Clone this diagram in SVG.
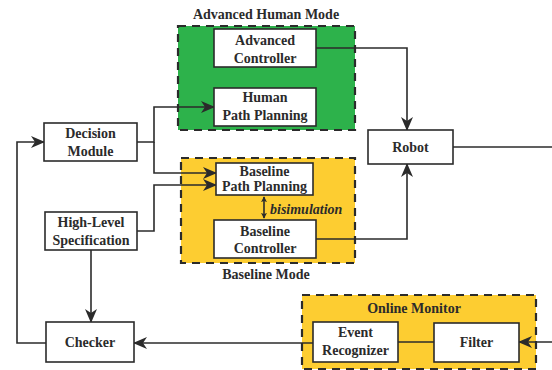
<svg xmlns="http://www.w3.org/2000/svg" width="552" height="370" viewBox="0 0 552 370">
<style>
.box{fill:#fff;stroke:#2b2b2b;stroke-width:1.6}
.grp{stroke:#2b2b2b;stroke-width:2.2;stroke-dasharray:8 6}
.t{font-family:'Liberation Serif','Times New Roman','DejaVu Serif',serif;font-weight:700;font-size:14px;fill:#2b2b2b;text-anchor:middle}
.i{font-family:'Liberation Serif','Times New Roman','DejaVu Serif',serif;font-weight:700;font-style:italic;font-size:14px;fill:#2b2b2b}
.ln{fill:none;stroke:#2b2b2b;stroke-width:1.6}
</style>
<defs>
<marker id="ah" viewBox="0 0 14 12" refX="13" refY="6" markerWidth="14" markerHeight="12" markerUnits="userSpaceOnUse" orient="auto">
<path d="M0,0 L14,6 L0,12 L4,6 Z" fill="#2b2b2b"/>
</marker>
<marker id="sh" viewBox="0 0 8 8" refX="7" refY="4" markerWidth="6" markerHeight="7" markerUnits="userSpaceOnUse" orient="auto-start-reverse">
<path d="M0,0 L8,4 L0,8 L2,4 Z" fill="#2b2b2b"/>
</marker>
</defs>
<g id="advanced-mode">
<rect x="178" y="26" width="177" height="104" fill="#2DB24B" class="grp"/>
<text class="t" x="266" y="19">Advanced Human Mode</text>
</g>
<g id="baseline-mode">
<rect x="181" y="158" width="174" height="105" fill="#FDCD31" class="grp"/>
<text class="t" x="266" y="279">Baseline Mode</text>
</g>
<g id="online-monitor">
<rect x="302" y="295" width="234" height="74" fill="#FDCD31" class="grp"/>
<text class="t" x="414" y="313">Online Monitor</text>
</g>
<g id="connectors">
<path class="ln" d="M316,48 H407 V130" marker-end="url(#ah)"/>
<path class="ln" d="M316,239 H407 V164" marker-end="url(#ah)"/>
<path class="ln" d="M453,147 H552"/>
<path class="ln" d="M137,142 H154 V107 H214" marker-end="url(#ah)"/>
<path class="ln" d="M154,142 V173 H216" marker-end="url(#ah)"/>
<path class="ln" d="M137,231 H154 V185 H216" marker-end="url(#ah)"/>
<path class="ln" d="M91,250 V322" marker-end="url(#ah)"/>
<path class="ln" d="M46,343 H17 V142 H44" marker-end="url(#ah)"/>
<path class="ln" d="M313,343 H134" marker-end="url(#ah)"/>
<path class="ln" d="M398,342 H434"/>
<path class="ln" d="M552,342 H519" marker-end="url(#ah)"/>
<path class="ln" d="M264,197 V218" marker-start="url(#sh)" marker-end="url(#sh)"/>
<text class="i" x="270" y="214">bisimulation</text>
</g>
<g id="advanced-controller">
<rect class="box" x="214" y="29" width="102" height="38"/>
<text class="t" x="265" y="45">Advanced</text>
<text class="t" x="265" y="63">Controller</text>
</g>
<g id="human-path-planning">
<rect class="box" x="214" y="88" width="102" height="38"/>
<text class="t" x="265" y="102">Human</text>
<text class="t" x="265" y="120">Path Planning</text>
</g>
<g id="baseline-path-planning">
<rect class="box" x="216" y="163" width="97" height="32"/>
<text class="t" x="264.5" y="176">Baseline</text>
<text class="t" x="264.5" y="191">Path Planning</text>
</g>
<g id="baseline-controller">
<rect class="box" x="214" y="220" width="102" height="38"/>
<text class="t" x="265" y="236">Baseline</text>
<text class="t" x="265" y="253">Controller</text>
</g>
<g id="robot">
<rect class="box" x="368" y="130" width="85" height="34"/>
<text class="t" x="410.5" y="152">Robot</text>
</g>
<g id="decision-module">
<rect class="box" x="44" y="123" width="93" height="38"/>
<text class="t" x="90.5" y="138">Decision</text>
<text class="t" x="90.5" y="156">Module</text>
</g>
<g id="high-level-spec">
<rect class="box" x="45" y="212" width="92" height="38"/>
<text class="t" x="91" y="227">High-Level</text>
<text class="t" x="91" y="245">Specification</text>
</g>
<g id="checker">
<rect class="box" x="46" y="322" width="88" height="40"/>
<text class="t" x="90" y="347">Checker</text>
</g>
<g id="event-recognizer">
<rect class="box" x="313" y="322" width="85" height="40"/>
<text class="t" x="355.5" y="337">Event</text>
<text class="t" x="355.5" y="355">Recognizer</text>
</g>
<g id="filter">
<rect class="box" x="434" y="323" width="85" height="39"/>
<text class="t" x="476.5" y="347">Filter</text>
</g>
</svg>
